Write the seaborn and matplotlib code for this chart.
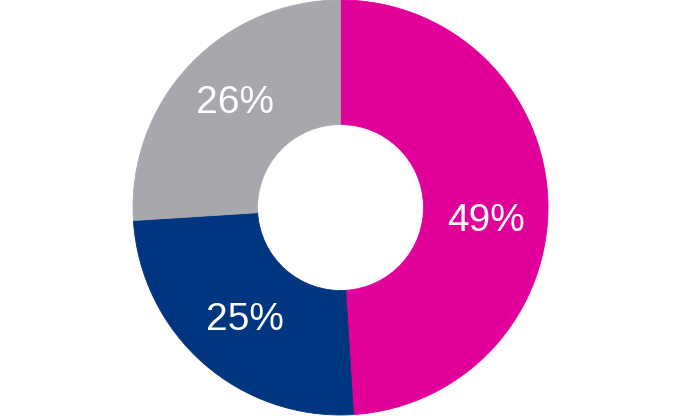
import matplotlib
matplotlib.use("Agg")
import matplotlib.pyplot as plt
import seaborn as sns
import numpy as np

# Data
categories = ["A", "B", "C"]
shares = [49, 25, 26]
colors = ["#E1009A", "#00357F", "#A7A8AE"]
label_texts = ["49%", "25%", "26%"]

sns.set_theme(style="white")
plt.rcParams["font.family"] = ["Liberation Sans", "DejaVu Sans"]

fig = plt.figure(figsize=(6.8, 4.16), dpi=100)
cx, cy, R = 340.5, 207.5, 207.5
ax = fig.add_axes([(cx - R) / 680, (416 - cy - R) / 416, 2 * R / 680, 2 * R / 416])

wedges, _ = ax.pie(
    shares,
    colors=sns.color_palette(colors),
    startangle=90,
    counterclock=False,
    radius=1.0,
    wedgeprops=dict(width=0.6, linewidth=0),
)
for w in wedges:
    w.set_edgecolor(w.get_facecolor())
    w.set_linewidth(0.6)

cum = np.cumsum([0] + shares[:-1])
offsets = [(0, -0.07), (0, 0.0), (0, 0.045)]
for i, (s, c0) in enumerate(zip(shares, cum)):
    theta = np.deg2rad(90 - 360 * (c0 + s / 2) / sum(shares))
    x, y = 0.7 * np.cos(theta), 0.7 * np.sin(theta)
    ax.text(x + offsets[i][0], y + offsets[i][1], label_texts[i],
            color="white", fontsize=28, ha="center", va="center_baseline")

ax.set_xlim(-1, 1)
ax.set_ylim(-1, 1)
ax.set_aspect("equal")
ax.axis("off")

fig.savefig("out.png", dpi=100, facecolor="white")
